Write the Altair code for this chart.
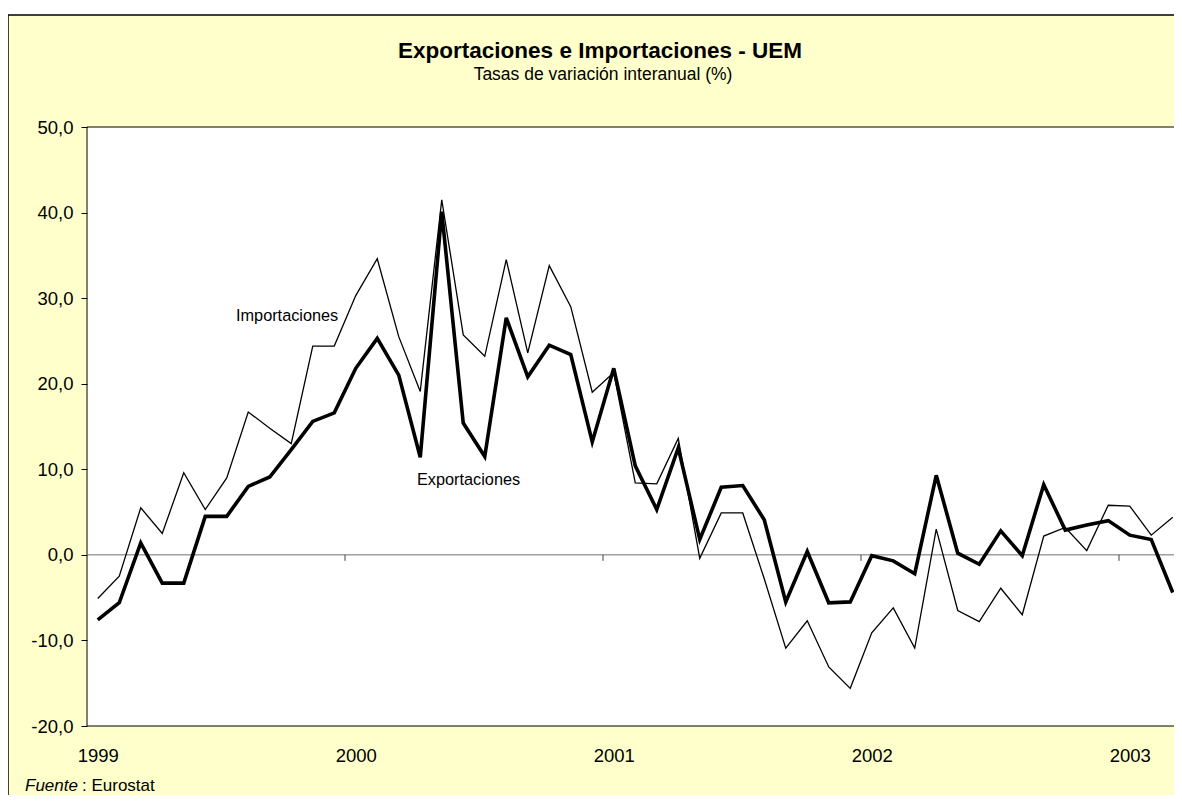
import altair as alt
import pandas as pd

# Monthly data, Jan 1999 - Mar 2003 (year-on-year % change)
exportaciones = [-7.6, -5.6, 1.4, -3.3, -3.3, 4.5, 4.5, 8.0, 9.1, 12.3, 15.6, 16.6,
                 21.8, 25.3, 21.0, 11.4, 40.1, 15.4, 11.5, 27.7, 20.8, 24.5, 23.4, 13.2,
                 21.8, 10.4, 5.3, 12.5, 1.8, 7.9, 8.1, 4.1, -5.5, 0.4, -5.6, -5.5,
                 -0.1, -0.7, -2.2, 9.3, 0.2, -1.1, 2.8, -0.1, 8.2, 2.9, 3.5, 4.0,
                 2.3, 1.8, -4.4]
importaciones = [-5.1, -2.5, 5.5, 2.5, 9.6, 5.3, 9.0, 16.7, 14.8, 13.0, 24.4, 24.4,
                 30.3, 34.6, 25.5, 19.1, 41.5, 25.7, 23.2, 34.5, 23.6, 33.8, 29.0, 19.0,
                 21.3, 8.4, 8.3, 13.6, -0.4, 4.9, 4.9, -2.8, -10.9, -7.7, -13.1, -15.6,
                 -9.1, -6.2, -10.9, 3.0, -6.5, -7.8, -3.9, -7.0, 2.2, 3.2, 0.5, 5.8,
                 5.7, 2.3, 4.4]
years = ["1999", "2000", "2001", "2002", "2003"]
y_ticks = [-20, -10, 0, 10, 20, 30, 40, 50]

FONT = "Liberation Sans"
W, H = 1087, 599
MONTH_PX = 21.5

df = pd.DataFrame({
    "mes": [i + 0.5 for i in range(len(exportaciones))],
    "exp": exportaciones,
    "imp": importaciones,
})
year_pos = [12 * k + 0.5 for k in range(len(years))]
bounds = pd.DataFrame({"b": [12 * k for k in range(1, len(years))]})
one = pd.DataFrame({"a": [0]})

xscale = alt.Scale(domain=[0, W / MONTH_PX], nice=False, zero=False)
yscale = alt.Scale(domain=[-20, 50], nice=False, zero=False)

xaxis = alt.Axis(values=year_pos,
                 labelExpr="years[floor(datum.value / 12)]".replace("years", str(years)),
                 title=None, grid=False, ticks=False, domain=False, tickSize=0,
                 labelPadding=29, labelBaseline="middle", labelFont=FONT,
                 labelFontSize=18.5, labelColor="black", zindex=1)
yaxis = alt.Axis(values=y_ticks,
                 labelExpr="replace(replace(format(datum.value, '.1f'), '.', ','), '\u2212', '-')",
                 title=None, grid=False, domain=False, ticks=True, tickSize=6,
                 tickColor="black", labelPadding=8, labelFont=FONT, labelFontSize=18.5,
                 labelColor="black", zindex=1)

bg = alt.Chart(one).mark_rect(fill="#FFFFCC", stroke="black", strokeWidth=1.5).encode(
    x=alt.value(-79), x2=alt.value(W + 60), y=alt.value(-112), y2=alt.value(H + 120))

plotbg = alt.Chart(one).mark_rect(fill="white", stroke="black", strokeWidth=1).encode(
    x=alt.value(0), x2=alt.value(W + 20), y=alt.value(0), y2=alt.value(H))

zero = alt.Chart(one).mark_rule(color="#707070", strokeWidth=1).encode(
    y=alt.Y("a:Q", scale=yscale, axis=yaxis))

ticks0 = alt.Chart(bounds).mark_rule(color="#404040", strokeWidth=1).encode(
    x=alt.X("b:Q", scale=xscale, axis=xaxis),
    y=alt.datum(0), y2=alt.datum(-0.7))

imp_line = alt.Chart(df).mark_line(color="black", strokeWidth=1.3).encode(
    x=alt.X("mes:Q", scale=xscale, axis=xaxis),
    y=alt.Y("imp:Q", scale=yscale, axis=yaxis))

exp_line = alt.Chart(df).mark_line(color="black", strokeWidth=3.6).encode(
    x=alt.X("mes:Q", scale=xscale, axis=xaxis),
    y=alt.Y("exp:Q", scale=yscale, axis=yaxis))

def txt(text, x, y, size, weight="normal", style="normal", align="center"):
    return alt.Chart(one).mark_text(text=text, font=FONT, fontSize=size, fontWeight=weight,
                                    fontStyle=style, align=align, baseline="middle",
                                    color="black").encode(x=alt.value(x), y=alt.value(y))

labels = [
    txt("Exportaciones e Importaciones - UEM", 600 - 87, 51 - 127, 22.5, weight="bold"),
    txt("Tasas de variación interanual (%)", 603 - 87, 75 - 127, 17.5),
    txt("Importaciones", 236 - 87, 316 - 127, 16.3, align="left"),
    txt("Exportaciones", 417 - 87, 480 - 127, 16.3, align="left"),
    txt("Fuente", 25 - 87, 786 - 127, 17, style="italic", align="left"),
    txt(": Eurostat", 82 - 87, 786 - 127, 17, align="left"),
]

chart = alt.layer(bg, plotbg, zero, ticks0, imp_line, exp_line, *labels).properties(
    width=W, height=H,
    autosize=alt.AutoSizeParams(type="none"),
    padding={"left": 79, "top": 119, "right": 0, "bottom": 69},
    background="white",
).configure_view(stroke=None)

chart.save("out.html", embed_options={"renderer": "svg", "actions": False})
